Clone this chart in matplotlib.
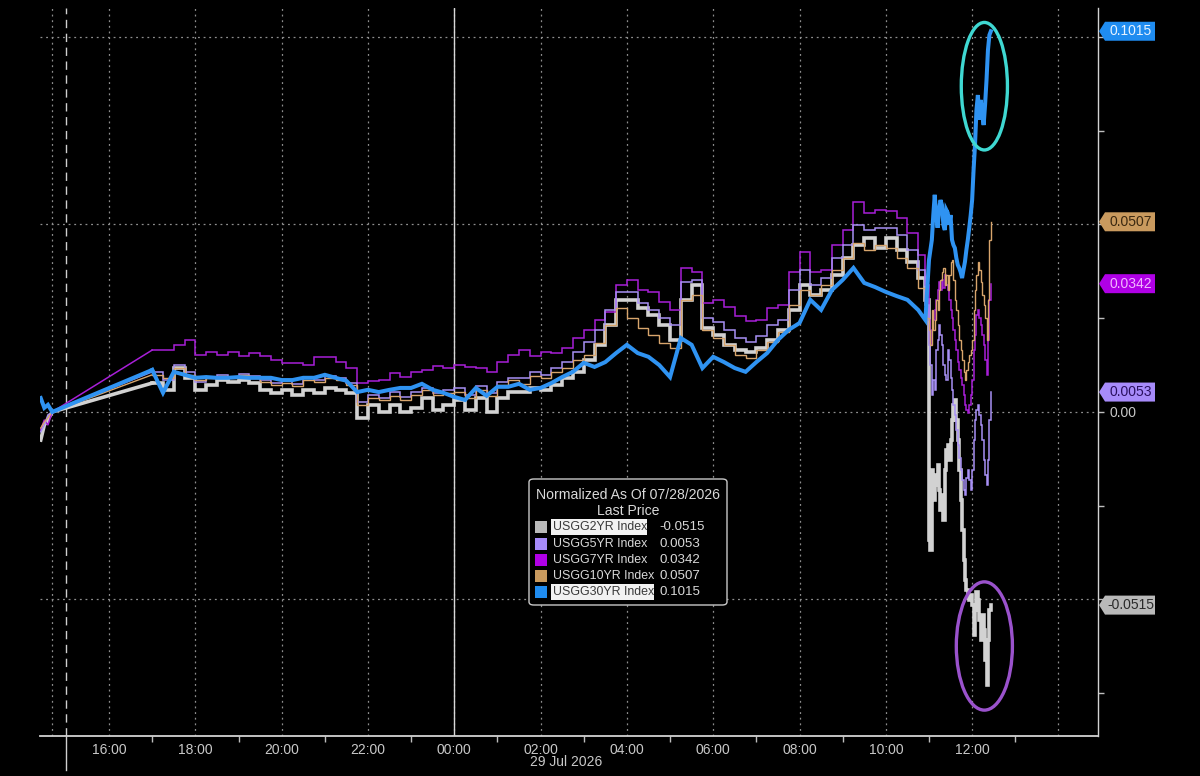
import numpy as np
import pandas as pd
import matplotlib
matplotlib.use("Agg")
import matplotlib.pyplot as plt
import matplotlib.transforms as mtransforms
from matplotlib.patches import Polygon, Ellipse, FancyBboxPatch, Rectangle

# === Fonts ===
plt.rcParams["font.family"] = ["Liberation Sans", "DejaVu Sans"]
tick_size = 10

# === Data (normalised change in basis points since 07/28/2026 14:41) ===
early_times = ["2026-07-28 14:25", "2026-07-28 14:30", "2026-07-28 14:35", "2026-07-28 14:41"]
times = (pd.to_datetime(early_times)
         .append(pd.date_range("2026-07-28 17:00", "2026-07-29 10:45", freq="15min"))
         .append(pd.to_datetime(["2026-07-29 10:55"]))
         .append(pd.date_range("2026-07-29 11:00", "2026-07-29 12:26", freq="2min")))

usgg2 = [-0.75, -0.35, -0.21, 0.0,
         0.77, 0.59, 1.17, 0.91, 0.59, 0.72, 0.85, 0.80, 0.85, 0.77,
         0.59, 0.51, 0.59, 0.45, 0.59, 0.51, 0.64, 0.59, 0.51, -0.16,
         0.19, 0.00, 0.19, 0.00, 0.11, 0.37, 0.05, 0.19, 0.32, 0.05,
         0.37, 0.00, 0.37, 0.53, 0.53, 0.64, 0.59, 0.72, 0.91, 1.07,
         1.39, 1.79, 2.32, 2.99, 2.99, 2.77, 2.59, 2.32, 1.92, 2.99,
         3.39, 2.24, 2.05, 1.79, 1.65, 1.60, 1.71, 1.92, 2.19, 2.72,
         3.39, 3.12, 3.25, 3.65, 4.11, 4.45, 4.64, 4.37, 4.64, 4.32,
         4.00, 3.57, 2.99,
         -3.41, -3.68, -1.55, -2.35, -1.68, -1.95, -1.41, -2.08, -2.61, -2.21,
         -2.88, -1.55, -1.01, -0.88, -1.28, -0.75, -0.21, 0.19, 0.32, -0.21,
         -0.75, -1.55, -2.35, -3.15, -3.95, -4.48, -4.75, -4.96, -5.01, -4.88,
         -5.15, -5.95, -5.28, -4.80, -5.01, -5.55, -6.08, -5.41, -5.81, -6.61,
         -7.28, -6.08, -5.28, -5.15]

usgg5 = [-0.53, -0.35, -0.08, 0.0,
         1.07, 0.85, 1.25, 1.07, 0.80, 0.91, 0.99, 0.93, 1.01, 0.96,
         0.85, 0.77, 0.83, 0.75, 0.91, 0.85, 0.96, 0.91, 0.77, 0.27,
         0.45, 0.37, 0.53, 0.40, 0.53, 0.64, 0.51, 0.59, 0.64, 0.45,
         0.69, 0.51, 0.80, 0.91, 0.91, 1.07, 0.99, 1.17, 1.33, 1.60,
         1.87, 2.19, 2.72, 3.20, 3.20, 2.91, 2.72, 2.51, 2.32, 3.47,
         3.52, 2.51, 2.40, 2.19, 1.97, 1.87, 2.03, 2.32, 2.45, 3.25,
         3.79, 3.39, 3.57, 4.11, 4.45, 4.99, 4.85, 4.91, 4.91, 4.72,
         4.32, 3.79, 2.85,
         1.79, 1.25, 0.45, 0.85, 0.59, 1.65, 1.92, 2.32, 2.05, 1.79,
         1.25, 0.99, 0.85, 1.65, 1.39, 0.91, 0.59, 0.19, -0.08, -0.48,
         -0.88, -1.23, -1.55, -1.81, -2.08, -2.21, -1.76, -1.55, -1.81, -2.08,
         -1.55, -0.75, -0.21, 0.05, 0.19, -0.08, -0.35, -0.75, -1.28, -1.68,
         -1.95, -1.28, -0.21, 0.53]

usgg7 = [-0.48, -0.21, -0.35, 0.0,
         1.65, 1.65, 1.79, 1.92, 1.52, 1.60, 1.52, 1.60, 1.49, 1.57,
         1.49, 1.39, 1.31, 1.31, 1.25, 1.47, 1.47, 1.33, 1.17, 0.77,
         0.83, 0.85, 1.04, 0.93, 1.07, 1.12, 1.23, 1.17, 1.25, 1.20,
         1.17, 1.07, 1.33, 1.52, 1.65, 1.49, 1.60, 1.57, 1.71, 1.97,
         2.19, 2.45, 2.67, 3.39, 3.52, 3.25, 3.20, 2.93, 2.72, 3.84,
         3.73, 2.91, 2.99, 2.80, 2.56, 2.43, 2.45, 2.77, 2.85, 3.73,
         4.27, 3.73, 3.79, 4.45, 4.85, 5.60, 5.31, 5.39, 5.36, 5.17,
         4.77, 4.19, 3.39,
         2.45, 1.79, 2.19, 2.45, 2.72, 2.99, 3.25, 3.47, 3.25, 3.52,
         3.31, 3.65, 3.39, 3.25, 2.99, 2.72, 2.51, 2.19, 1.92, 1.65,
         1.33, 1.12, 0.91, 0.72, 0.45, 0.19, 0.05, -0.03, 0.19, 0.45,
         0.85, 1.65, 2.05, 2.59, 2.72, 2.51, 2.32, 2.05, 1.79, 1.39,
         0.99, 1.92, 2.99, 3.42]

usgg10 = [-0.43, -0.27, -0.16, 0.0,
          0.99, 0.91, 1.17, 0.99, 0.85, 0.91, 0.96, 0.91, 0.99, 0.91,
          0.80, 0.72, 0.77, 0.69, 0.85, 0.80, 0.91, 0.85, 0.72, 0.19,
          0.37, 0.32, 0.43, 0.32, 0.45, 0.59, 0.45, 0.51, 0.53, 0.37,
          0.59, 0.43, 0.72, 0.85, 0.75, 0.96, 0.91, 1.07, 1.17, 1.39,
          1.52, 1.84, 2.32, 2.77, 2.51, 2.24, 2.05, 1.84, 1.71, 2.99,
          3.12, 2.19, 1.97, 1.79, 1.52, 1.44, 1.65, 1.87, 2.13, 2.85,
          3.25, 3.12, 3.39, 3.79, 4.11, 4.51, 4.32, 4.45, 4.37, 4.11,
          3.84, 3.31, 2.51,
          2.19, 1.79, 2.72, 2.19, 2.45, 2.99, 2.72, 3.25, 3.52, 3.73,
          3.84, 3.39, 3.65, 3.25, 3.65, 4.00, 4.05, 3.52, 2.99, 2.72,
          2.32, 1.92, 1.65, 1.39, 1.07, 0.85, 1.12, 1.33, 1.52, 1.65,
          1.92, 2.72, 3.25, 3.65, 4.00, 3.79, 3.47, 3.12, 2.85, 2.51,
          1.92, 2.99, 4.59, 5.07]

usgg30 = [0.37, 0.11, 0.19, 0.0,
          1.12, 0.51, 1.07, 0.99, 0.91, 0.93, 0.91, 0.91, 0.93, 0.91,
          0.91, 0.91, 0.85, 0.85, 0.91, 0.91, 0.99, 0.91, 0.83, 0.53,
          0.59, 0.53, 0.59, 0.64, 0.64, 0.75, 0.59, 0.51, 0.40, 0.32,
          0.64, 0.43, 0.67, 0.67, 0.75, 0.59, 0.64, 0.77, 0.93, 1.07,
          1.31, 1.20, 1.33, 1.57, 1.79, 1.57, 1.47, 1.25, 0.93, 1.97,
          1.79, 1.17, 1.47, 1.33, 1.17, 1.07, 1.33, 1.57, 1.92, 2.19,
          2.37, 2.99, 2.72, 3.25, 3.52, 3.84, 3.44, 3.33, 3.20, 3.09,
          2.99, 2.72, 2.45,
          4.05, 4.32, 4.59, 5.25, 5.79, 5.25, 4.91, 5.39, 5.65, 5.52,
          4.99, 4.85, 5.39, 5.31, 4.99, 5.25, 4.59, 4.45, 4.37, 4.11,
          3.92, 3.84, 3.73, 3.57, 3.79, 4.00, 4.32, 4.59, 4.91, 5.25,
          5.65, 6.45, 7.12, 8.05, 8.45, 7.79, 8.32, 7.92, 7.65, 8.19,
          8.85, 9.65, 10.05, 10.15]

names = ["USGG2YR Index", "USGG5YR Index", "USGG7YR Index", "USGG10YR Index", "USGG30YR Index"]
last_price = [-0.0515, 0.0053, 0.0342, 0.0507, 0.1015]

df = pd.DataFrame({"USGG2YR Index": usgg2, "USGG5YR Index": usgg5,
                   "USGG7YR Index": usgg7, "USGG10YR Index": usgg10,
                   "USGG30YR Index": usgg30}, index=times) / 100.0

# === Styles ===
line_color = {"USGG2YR Index": "#d2d2d2", "USGG5YR Index": "#a890f5",
              "USGG7YR Index": "#a81fd8", "USGG10YR Index": "#d8a56c",
              "USGG30YR Index": "#2f93f2"}
line_width = {"USGG2YR Index": 2.6, "USGG5YR Index": 1.1, "USGG7YR Index": 1.1,
              "USGG10YR Index": 1.0, "USGG30YR Index": 2.9}
box_color = {"USGG2YR Index": "#b9b9b9", "USGG5YR Index": "#a78bfa",
             "USGG7YR Index": "#b000e6", "USGG10YR Index": "#c99a5e",
             "USGG30YR Index": "#1f8cf0"}
tag_text_color = {"USGG2YR Index": "#2a2a2a", "USGG5YR Index": "#2a1060",
                  "USGG7YR Index": "#f2b6ff", "USGG10YR Index": "#3a2810",
                  "USGG30YR Index": "#e8f3ff"}
draw_order = ["USGG2YR Index", "USGG7YR Index", "USGG5YR Index", "USGG10YR Index", "USGG30YR Index"]

# === Figure ===
W, H = 1200, 776
fig = plt.figure(figsize=(W / 100, H / 100), dpi=100, facecolor="black")
ax = fig.add_axes([40 / W, 40 / H, 1058 / W, 728 / H])
ax.set_facecolor("black")

n_early = len(early_times)
for z, name in enumerate(draw_order):
    v = df[name]
    kw = dict(color=line_color[name], lw=line_width[name], zorder=3 + z,
              solid_joinstyle="miter")
    # straight join across the quiet hours before 17:00
    ax.plot(v.index[:n_early + 1], v.values[:n_early + 1], **kw)
    if name == "USGG30YR Index":
        ax.plot(v.index[n_early:], v.values[n_early:], **kw)
    else:
        ax.plot(v.index[n_early:], v.values[n_early:], drawstyle="steps-post", **kw)

ax.set_xlim(pd.Timestamp("2026-07-28 14:24"), pd.Timestamp("2026-07-29 14:55"))
ax.set_ylim(-0.0864, 0.1077)

# === Axes cosmetics ===
grid_kw = dict(color="#8e8e8e", lw=0.9, linestyle=(0, (1.5, 3)))
major_x = pd.date_range("2026-07-28 16:00", "2026-07-29 14:00", freq="2h")
minor_x = pd.date_range("2026-07-28 17:00", "2026-07-29 13:00", freq="2h")
xlabels = [t.strftime("%H:%M") for t in major_x]
xlabels[-1] = ""
ax.set_xticks(major_x, xlabels)
ax.set_xticks(minor_x, minor=True)
ax.tick_params(axis="x", which="major", length=0, pad=5,
               labelcolor="#c8c8c8", labelsize=tick_size)
ax.tick_params(axis="x", which="minor", length=4, color="#bdbdbd", width=1)

ax.yaxis.tick_right()
ax.set_yticks([-0.05, 0.0, 0.05, 0.10], ["", "0.00", "", ""])
ax.set_yticks([-0.075, -0.025, 0.025, 0.075], minor=True)
ax.tick_params(axis="y", which="both", length=4, color="#bdbdbd", width=1,
               labelcolor="#c8c8c8", labelsize=tick_size, pad=4)

for x in major_x:
    ax.axvline(x, zorder=1, **grid_kw)
for y in [-0.05, 0.0, 0.05, 0.10]:
    ax.axhline(y, zorder=1, **grid_kw)
ax.axvline(times[n_early - 1], zorder=1, **grid_kw)
ax.axvline(pd.Timestamp("2026-07-29 00:00"), color="#d8d8d8", lw=1.0, zorder=2)

session = pd.Timestamp("2026-07-28 15:00")
ax.axvline(session, color="#cfcfcf", lw=1.0, linestyle=(0, (6, 4)), zorder=2)
ax.axvline(session, ymin=-0.047, ymax=0, color="#cfcfcf", lw=1.0, clip_on=False)

for side in ["top", "left"]:
    ax.spines[side].set_visible(False)
ax.spines["bottom"].set_color("#d2d2d2")
ax.spines["bottom"].set_linewidth(1.3)
ax.spines["right"].set_color("#d2d2d2")
ax.spines["right"].set_linewidth(1.0)

trans_xd = mtransforms.blended_transform_factory(ax.transData, ax.transAxes)
ax.text(pd.Timestamp("2026-07-29 02:36"), -0.0357, "29 Jul 2026", transform=trans_xd,
        ha="center", va="center", color="#c8c8c8", fontsize=tick_size)

# === Last value tags on the right axis ===
trans_ad = mtransforms.blended_transform_factory(ax.transAxes, ax.transData)
tip, tag_w, half_h = 7 / 1058, 57 / 1058, 9.5 / 3750
for name, val in zip(names, last_price):
    pts = [(1.0 + 0.001, val), (1.0 + tip, val + half_h), (1.0 + tag_w, val + half_h),
           (1.0 + tag_w, val - half_h), (1.0 + tip, val - half_h)]
    ax.add_patch(Polygon(pts, closed=True, transform=trans_ad, clip_on=False,
                         facecolor=box_color[name], edgecolor="none", zorder=10))
    ax.text(1.0 + (tip + tag_w) / 2 + 0.001, val, f"{val:.4f}", transform=trans_ad,
            ha="center", va="center", color=tag_text_color[name],
            fontsize=tick_size, clip_on=False, zorder=11)

# === Highlight ellipses around the latest moves ===
tail = df.iloc[-12:]
t_mid = tail.index[0] + (tail.index[-1] - tail.index[0]) / 2
x_mid = matplotlib.dates.date2num(t_mid) + 2 / 1440
hi = tail["USGG30YR Index"]
lo = tail["USGG2YR Index"]
ax.add_patch(Ellipse((x_mid, (hi.max() + hi.min()) / 2 + 0.0005), width=1.07 / 24, height=0.034,
                     fill=False, edgecolor="#3fd8d2", lw=2.4, zorder=12))
ax.add_patch(Ellipse((x_mid, (lo.max() + lo.min()) / 2 - 0.002), width=1.3 / 24, height=0.0342,
                     fill=False, edgecolor="#9a52cc", lw=2.4, zorder=12))

# === Legend box ===
def fx(px):
    return px / W

def fy(py):
    return 1 - py / H

fig.add_artist(FancyBboxPatch((fx(529), fy(605)), fx(727) - fx(529), fy(479) - fy(605),
                              boxstyle="round,pad=0,rounding_size=0.004",
                              transform=fig.transFigure, facecolor="black",
                              edgecolor="#c8c8c8", lw=1.0, zorder=20))
fig.text(fx(628), fy(495), "Normalized As Of 07/28/2026", ha="center", va="center",
         color="#d8d8d8", fontsize=10.1, zorder=21)
fig.text(fx(628), fy(511), "Last Price", ha="center", va="center",
         color="#d8d8d8", fontsize=10.1, zorder=21)
row_y = [527, 544, 560, 576, 592]
highlight_w = {"USGG2YR Index": 96, "USGG30YR Index": 103}
for name, val, ry in zip(names, last_price, row_y):
    fig.add_artist(Rectangle((fx(535), fy(ry + 6)), fx(547) - fx(535), fy(ry - 6) - fy(ry + 6),
                             transform=fig.transFigure, facecolor=box_color[name],
                             edgecolor="none", zorder=21))
    if name in highlight_w:
        fig.add_artist(Rectangle((fx(551), fy(ry + 8)), highlight_w[name] / W, 16 / H,
                                 transform=fig.transFigure, facecolor="#f2f2f2",
                                 edgecolor="none", zorder=21))
        txt_color = "#3a3a3a"
    else:
        txt_color = "#d8d8d8"
    fig.text(fx(553), fy(ry), name, ha="left", va="center", color=txt_color,
             fontsize=8.9, zorder=22)
    fig.text(fx(659), fy(ry), f"{val:.4f}", ha="left", va="center", color="#d8d8d8",
             fontsize=9.6, zorder=22)

fig.savefig("out.png", dpi=100, facecolor="black")
